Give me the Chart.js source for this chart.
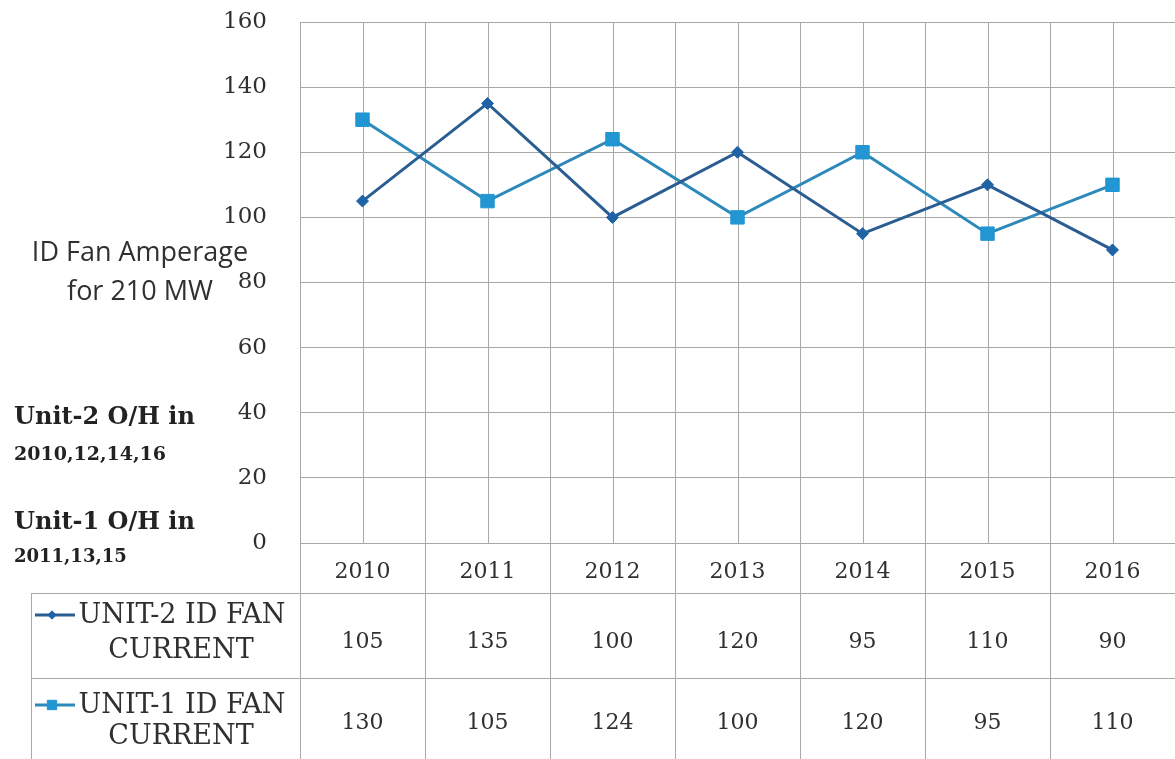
<!DOCTYPE html>
<html>
<head>
<meta charset="utf-8">
<script src="https://cdn.jsdelivr.net/npm/chart.js@4/dist/chart.umd.min.js"></script>
<style>
  html, body { margin: 0; padding: 0; background: #ffffff; overflow: hidden; }
  canvas { display: block; }
</style>
</head>
<body>
<canvas id="chart" width="1175" height="759"></canvas>
<script>
// ---- data ----
const years = ['2010', '2011', '2012', '2013', '2014', '2015', '2016'];
const unit2Current = [105, 135, 100, 120, 95, 110, 90];
const unit1Current = [130, 105, 124, 100, 120, 95, 110];
const yMin = 0;
const yMax = 160;
const yStep = 20;
const seriesNames = [['UNIT-2 ID FAN', 'CURRENT'], ['UNIT-1 ID FAN', 'CURRENT']];
const axisTitle = ['ID Fan Amperage', 'for 210 MW'];
const overhaulNotes = [['Unit-2 O/H in', '2010,12,14,16'], ['Unit-1 O/H in', '2011,13,15']];

// ---- layout / style ----
const GRID = '#a8a8a8';
const TEXT = '#303030';
const SERIF = '"DejaVu Serif", "Liberation Serif", serif';
const SANS = '"Open Sans", "Noto Sans", sans-serif';
const PLOT_TOP = 22;       // y of the 160 gridline
const PLOT_BOTTOM = 543;   // y of the 0 gridline
const Y_AXIS_W = 300;      // width reserved left of the plot
const X_BAND_H = 50;       // height of the year row under the plot
const ROW_H = 85;          // height of one data-table row
const TABLE_LEFT = 31;     // left border of the series-name column
const CLEAR = 'rgba(0,0,0,0)';
// vertical text offsets inside each table row
const VALUE_OFFSET = [49, 45];
const NAME_LINE1 = [22, 27];
const NAME_LINE2 = [58, 59];

// data table with legend keys, axis caption and overhaul notes
const tablePlugin = {
  id: 'dataTable',
  beforeDatasetsDraw(chart) {
    // minor vertical gridlines through each category centre
    const { ctx, chartArea: a, scales: { x } } = chart;
    ctx.save();
    ctx.strokeStyle = GRID;
    ctx.lineWidth = 1;
    years.forEach((_, i) => {
      const px = Math.round(x.getPixelForValue(i)) + 0.5;
      ctx.beginPath();
      ctx.moveTo(px, a.top);
      ctx.lineTo(px, a.bottom);
      ctx.stroke();
    });
    ctx.restore();
  },
  afterDraw(chart) {
    const { ctx, chartArea: a, scales: { x }, width: W, height: H } = chart;
    const step = x.getPixelForValue(1) - x.getPixelForValue(0);
    const tableTop = a.bottom + X_BAND_H;

    ctx.save();
    ctx.strokeStyle = GRID;
    ctx.lineWidth = 1;
    // horizontal rules of the table
    for (let r = 0; r < 2; r++) {
      const yy = Math.round(tableTop + r * ROW_H) + 0.5;
      ctx.beginPath();
      ctx.moveTo(TABLE_LEFT, yy);
      ctx.lineTo(W, yy);
      ctx.stroke();
    }
    // left border of name column
    ctx.beginPath();
    ctx.moveTo(TABLE_LEFT + 0.5, tableTop);
    ctx.lineTo(TABLE_LEFT + 0.5, H);
    ctx.stroke();
    // column boundaries continue below the plot
    for (let i = 0; i <= years.length; i++) {
      const bx = Math.round(x.getPixelForValue(0) - step / 2 + i * step) + 0.5;
      ctx.beginPath();
      ctx.moveTo(bx, a.bottom);
      ctx.lineTo(bx, H);
      ctx.stroke();
    }

    // values in the table
    ctx.fillStyle = TEXT;
    ctx.textAlign = 'center';
    ctx.textBaseline = 'middle';
    ctx.font = '22px ' + SERIF;
    chart.data.datasets.forEach((ds, r) => {
      const cy = tableTop + r * ROW_H + VALUE_OFFSET[r];
      ds.data.forEach((v, i) => {
        ctx.fillText(String(v), x.getPixelForValue(i), cy);
      });
    });

    // series names with legend keys
    chart.data.datasets.forEach((ds, r) => {
      const top = tableTop + r * ROW_H;
      const l1 = top + NAME_LINE1[r];
      const l2 = top + NAME_LINE2[r];
      ctx.strokeStyle = ds.borderColor;
      ctx.lineWidth = 3;
      ctx.beginPath();
      ctx.moveTo(35, l1);
      ctx.lineTo(75, l1);
      ctx.stroke();
      const pOpts = {
        pointStyle: ds.pointStyle,
        radius: ds.pointRadius * 0.7,
        rotation: 0,
        borderWidth: 1
      };
      ctx.fillStyle = ds.pointBackgroundColor;
      ctx.strokeStyle = ds.pointBorderColor;
      ctx.lineWidth = 1;
      Chart.helpers.drawPoint(ctx, pOpts, 52, l1);
      ctx.fillStyle = TEXT;
      ctx.font = '27px ' + SERIF;
      ctx.textAlign = 'center';
      ctx.fillText(seriesNames[r][0], 182, l1 + 1);
      ctx.fillText(seriesNames[r][1], 181, l2);
    });

    // axis caption
    ctx.fillStyle = TEXT;
    ctx.font = '27px ' + SANS;
    ctx.textAlign = 'center';
    ctx.fillText(axisTitle[0], 140, 253);
    ctx.fillText(axisTitle[1], 140, 292);

    // overhaul notes
    ctx.textAlign = 'left';
    ctx.fillStyle = '#222222';
    ctx.font = 'bold 24px ' + SERIF;
    ctx.fillText(overhaulNotes[0][0], 14, 418);
    ctx.font = 'bold 19px ' + SERIF;
    ctx.fillText(overhaulNotes[0][1], 14, 455);
    ctx.font = 'bold 24px ' + SERIF;
    ctx.fillText(overhaulNotes[1][0], 14, 523);
    ctx.font = 'bold 18px ' + SERIF;
    ctx.fillText(overhaulNotes[1][1], 14, 557);
    ctx.restore();
  }
};

new Chart(document.getElementById('chart'), {
  type: 'line',
  data: {
    labels: years,
    datasets: [
      {
        label: seriesNames[0].join(' '),
        data: unit2Current,
        borderColor: '#2a5d91',
        borderWidth: 3,
        pointStyle: 'rectRot',
        pointRadius: 6,
        pointBackgroundColor: '#1f63a6',
        pointBorderColor: '#1f63a6',
        pointBorderWidth: 1,
        tension: 0
      },
      {
        label: seriesNames[1].join(' '),
        data: unit1Current,
        borderColor: '#2d89ba',
        borderWidth: 3,
        pointStyle: 'rect',
        pointRadius: 9.5,
        pointBackgroundColor: '#2196d3',
        pointBorderColor: '#2196d3',
        pointBorderWidth: 1,
        tension: 0
      }
    ]
  },
  options: {
    responsive: false,
    animation: false,
    layout: {
      autoPadding: false,
      padding: { top: PLOT_TOP, right: 0, left: 0, bottom: 759 - PLOT_BOTTOM - X_BAND_H }
    },
    plugins: { legend: { display: false }, tooltip: { enabled: false } },
    scales: {
      x: {
        offset: true,
        grid: { offset: true, color: GRID, lineWidth: 1, drawTicks: true, tickLength: 16, tickColor: CLEAR },
        border: { color: GRID, width: 1 },
        ticks: { color: TEXT, font: { family: SERIF, size: 22 }, padding: 0, maxRotation: 0, autoSkip: false },
        afterFit(scale) { scale.height = X_BAND_H; scale.paddingRight = 0; scale.paddingLeft = 0; }
      },
      y: {
        min: yMin,
        max: yMax,
        grid: { color: GRID, lineWidth: 1, drawTicks: true, tickLength: 30, tickColor: CLEAR },
        border: { color: GRID, width: 1 },
        ticks: { stepSize: yStep, color: TEXT, font: { family: SERIF, size: 23 }, padding: 3 },
        afterFit(scale) { scale.width = Y_AXIS_W; scale.paddingTop = 0; scale.paddingBottom = 0; }
      }
    }
  },
  plugins: [tablePlugin]
});
</script>
</body>
</html>
